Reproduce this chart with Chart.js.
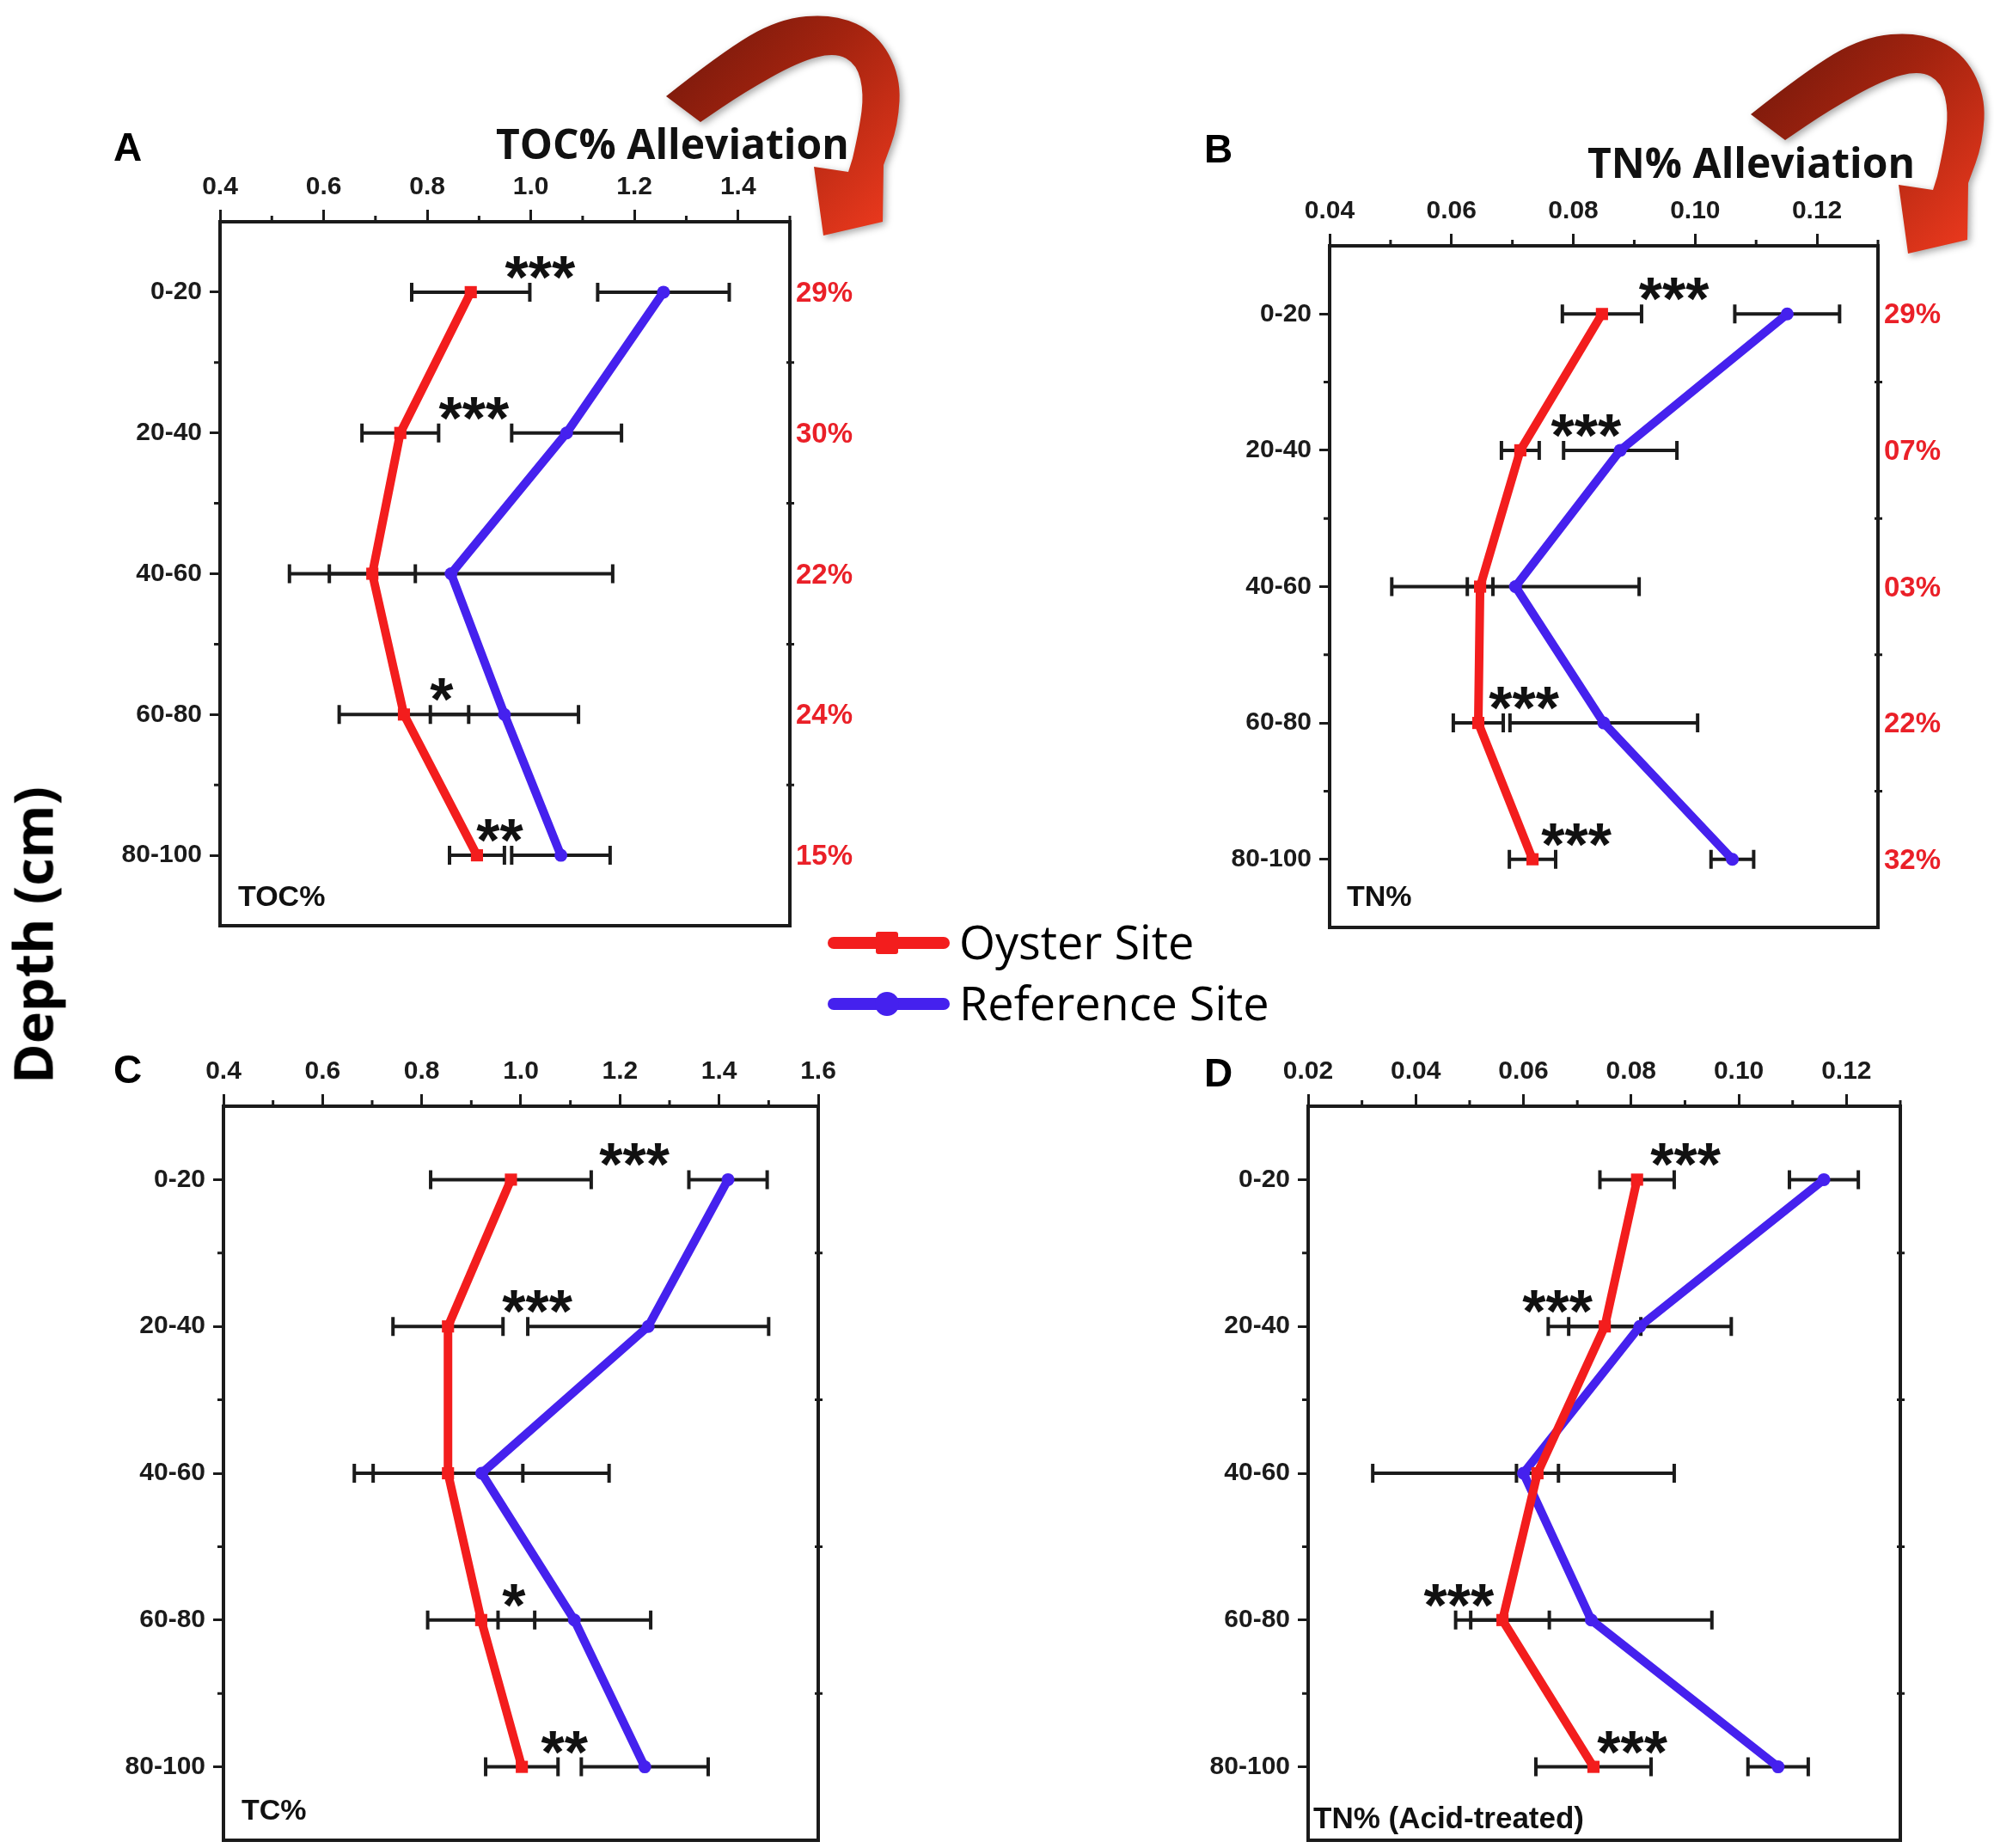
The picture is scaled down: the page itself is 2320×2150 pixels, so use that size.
<!DOCTYPE html>
<html>
<head>
<meta charset="utf-8">
<script src="https://cdn.jsdelivr.net/npm/chart.js@4.4.1/dist/chart.umd.min.js"></script>
<style>
  html, body { margin: 0; padding: 0; background: #fff; }
  body { width: 2320px; height: 2150px; position: relative; overflow: hidden; }
  canvas.panel { position: absolute; }
  #deco { position: absolute; left: 0; top: 0; }
  .letter { position: absolute; font: bold 46px 'Liberation Sans', Arial, sans-serif; line-height: 46px; color: #000; }
  .title { position: absolute; font: bold 48px 'Open Sans', sans-serif; line-height: 48px; color: #111; white-space: nowrap; }
  .depth { position: absolute; font: bold 63px 'Open Sans', sans-serif; line-height: 63px; color: #000; white-space: nowrap;
           transform: translate(-50%, -50%) rotate(-90deg); }
  .leg { position: absolute; left: 1116px; font: 54px 'Open Sans', sans-serif; line-height: 54px; color: #000; white-space: nowrap; }
  .swline { position: absolute; left: 963px; width: 142px; height: 14px; border-radius: 7px; }
  .swmark { position: absolute; }
</style>
</head>
<body>
<canvas id="deco" width="2320" height="2150"></canvas>

<div class="letter" style="left:132px;top:148px">A</div>
<div class="letter" style="left:1401px;top:150px">B</div>
<div class="letter" style="left:132px;top:1221px">C</div>
<div class="letter" style="left:1401px;top:1225px">D</div>

<div class="title" style="left:577px;top:143px">TOC% Alleviation</div>
<div class="title" style="left:1847px;top:165px">TN% Alleviation</div>

<div class="depth" style="left:37px;top:1088px">Depth (cm)</div>

<div class="swline" style="top:1090px;background:#f31d1d"></div>
<div class="swmark" style="left:1019px;top:1084px;width:26px;height:26px;background:#f31d1d;border-radius:3px"></div>
<div class="leg" style="top:1068px">Oyster Site</div>
<div class="swline" style="top:1161px;background:#4521ee"></div>
<div class="swmark" style="left:1018px;top:1154px;width:28px;height:28px;background:#4521ee;border-radius:50%"></div>
<div class="leg" style="top:1139px">Reference Site</div>

<canvas id="chartA" class="panel"></canvas>
<canvas id="chartB" class="panel"></canvas>
<canvas id="chartC" class="panel"></canvas>
<canvas id="chartD" class="panel"></canvas>

<script>
// depth intervals (rows)
const depths = ['0-20', '20-40', '40-60', '60-80', '80-100'];

// A: TOC%
const tocOyster = [0.884, 0.748, 0.694, 0.755, 0.896];
const tocOysterErr = [0.114, 0.074, 0.083, 0.125, 0.053];
const tocRef = [1.256, 1.069, 0.846, 0.949, 1.058];
const tocRefErr = [0.127, 0.106, 0.312, 0.143, 0.095];
const tocTicks = [0.4, 0.6, 0.8, 1.0, 1.2, 1.4];
const tocRange = [0.4, 1.5];
const tocAlleviation = ['29%', '30%', '22%', '24%', '15%'];
const tocStars = ['***', '***', '', '*', '**'];
const tocStarX = [1.018, 0.890, null, 0.828, 0.940];

// B: TN%
const tnOyster = [0.0847, 0.0713, 0.0647, 0.0644, 0.0733];
const tnOysterErr = [0.0065, 0.0031, 0.0021, 0.0041, 0.0038];
const tnRef = [0.1151, 0.0877, 0.0705, 0.0850, 0.1061];
const tnRefErr = [0.0086, 0.0093, 0.0203, 0.0154, 0.0035];
const tnTicks = [0.04, 0.06, 0.08, 0.10, 0.12];
const tnRange = [0.04, 0.13];
const tnAlleviation = ['29%', '07%', '03%', '22%', '32%'];
const tnStars = ['***', '***', '', '***', '***'];
const tnStarX = [0.0965, 0.0821, null, 0.0719, 0.0805];

// C: TC%
const tcOyster = [0.980, 0.853, 0.853, 0.920, 1.002];
const tcOysterErr = [0.162, 0.111, 0.151, 0.108, 0.073];
const tcRef = [1.418, 1.257, 0.921, 1.108, 1.250];
const tcRefErr = [0.079, 0.243, 0.257, 0.154, 0.128];
const tcTicks = [0.4, 0.6, 0.8, 1.0, 1.2, 1.4, 1.6];
const tcRange = [0.4, 1.6];
const tcStars = ['***', '***', '', '*', '**'];
const tcStarX = [1.229, 1.033, null, 0.986, 1.088];

// D: TN% (Acid-treated)
const tnaOyster = [0.0811, 0.0751, 0.0626, 0.0561, 0.0730];
const tnaOysterErr = [0.0069, 0.0067, 0.0039, 0.0087, 0.0107];
const tnaRef = [0.1158, 0.0816, 0.0600, 0.0726, 0.1073];
const tnaRefErr = [0.0064, 0.0170, 0.0280, 0.0224, 0.0056];
const tnaTicks = [0.02, 0.04, 0.06, 0.08, 0.10, 0.12];
const tnaRange = [0.02, 0.13];
const tnaStars = ['***', '***', '', '***', '***'];
const tnaStarX = [0.0901, 0.0663, null, 0.0480, 0.0802];

const RED = '#f31d1d';
const BLUE = '#4521ee';
const INK = '#1b1b1b';
const PCT = '#ea2028';
const FONT = "'Liberation Sans', Arial, sans-serif";

// error bars, frame, minor ticks, stars, alleviation %, inner label
const panelDecor = {
  id: 'panelDecor',
  beforeDatasetsDraw(chart) {
    const ctx = chart.ctx, xs = chart.scales.x, ys = chart.scales.y;
    ctx.save();
    ctx.strokeStyle = INK;
    ctx.lineWidth = 4;
    chart.data.datasets.forEach(ds => {
      ds.data.forEach((p, i) => {
        const e = ds.errors[i];
        const y = ys.getPixelForValue(p.y);
        const x1 = xs.getPixelForValue(p.x - e), x2 = xs.getPixelForValue(p.x + e);
        ctx.beginPath();
        ctx.moveTo(x1, y); ctx.lineTo(x2, y);
        ctx.moveTo(x1, y - 11); ctx.lineTo(x1, y + 11);
        ctx.moveTo(x2, y - 11); ctx.lineTo(x2, y + 11);
        ctx.stroke();
      });
    });
    ctx.restore();
  },
  afterDraw(chart, args, o) {
    const ctx = chart.ctx, xs = chart.scales.x, ys = chart.scales.y;
    const a = chart.chartArea;
    ctx.save();
    ctx.strokeStyle = INK;
    ctx.lineWidth = 4;
    ctx.strokeRect(a.left, a.top, a.right - a.left, a.bottom - a.top);

    // minor ticks
    ctx.lineWidth = 3;
    ctx.beginPath();
    const step = o.ticks[1] - o.ticks[0];
    for (let v = o.ticks[0] + step / 2; v <= o.range[1] + 1e-9; v += step) {
      const px = xs.getPixelForValue(v);
      ctx.moveTo(px, a.top); ctx.lineTo(px, a.top - 7);
    }
    for (let i = 0; i < depths.length - 1; i++) {
      const py = ys.getPixelForValue(i + 0.5);
      ctx.moveTo(a.left, py); ctx.lineTo(a.left - 7, py);
      ctx.moveTo(a.right - 4, py); ctx.lineTo(a.right + 5, py);
    }
    ctx.stroke();

    // significance stars
    ctx.fillStyle = '#111';
    ctx.font = 'bold 70px ' + FONT;
    ctx.textAlign = 'center';
    ctx.textBaseline = 'alphabetic';
    o.stars.forEach((s, i) => {
      if (!s) return;
      ctx.fillText(s, xs.getPixelForValue(o.starX[i]), ys.getPixelForValue(i) + 7);
    });

    // alleviation percentages
    if (o.pct) {
      ctx.fillStyle = PCT;
      ctx.font = 'bold 33px ' + FONT;
      ctx.textAlign = 'left';
      ctx.textBaseline = 'middle';
      o.pct.forEach((s, i) => ctx.fillText(s, a.right + 7, ys.getPixelForValue(i) + 2));
    }

    // inner label
    ctx.fillStyle = '#111';
    ctx.font = 'bold ' + o.labelSize + 'px ' + FONT;
    ctx.textAlign = 'left';
    ctx.textBaseline = 'middle';
    ctx.fillText(o.label, a.left + o.labelDx, a.bottom - o.labelDy);
    ctx.restore();
  }
};

function panel(id, box, o) {
  const el = document.getElementById(id);
  const padL = 150, padT = 100, padB = 12;
  const w = box.r - box.l + padL + box.padR;
  const h = box.b - box.t + padT + padB;
  el.width = w; el.height = h;
  el.style.width = w + 'px'; el.style.height = h + 'px';
  el.style.left = (box.l - padL) + 'px';
  el.style.top = (box.t - padT) + 'px';

  const tickFont = { family: FONT, size: 30, weight: 'bold' };
  const noPad = s => { s.paddingTop = 0; s.paddingBottom = 0; s.paddingLeft = 0; s.paddingRight = 0; };
  const mk = (vals, errs, color, style, radius) => ({
    data: vals.map((v, i) => ({ x: v, y: i })),
    errors: errs,
    borderColor: color,
    backgroundColor: color,
    borderWidth: 10,
    pointStyle: style,
    pointRadius: radius,
    pointBorderWidth: 0,
    tension: 0,
    clip: false
  });

  new Chart(el, {
    type: 'line',
    data: {
      datasets: [
        mk(o.oyster, o.oysterErr, RED, 'rect', 10),
        mk(o.ref, o.refErr, BLUE, 'circle', 7.5)
      ]
    },
    options: {
      responsive: false,
      animation: false,
      devicePixelRatio: 1,
      layout: { padding: { left: 0, top: 0, right: box.padR, bottom: padB } },
      plugins: {
        legend: { display: false },
        tooltip: { enabled: false },
        panelDecor: o
      },
      scales: {
        x: {
          type: 'linear', position: 'top',
          min: o.range[0], max: o.range[1],
          afterBuildTicks: s => { s.ticks = o.ticks.map(v => ({ value: v })); },
          afterFit: s => { s.height = padT; noPad(s); },
          grid: { display: true, drawOnChartArea: false, drawTicks: true, tickLength: 14, tickWidth: 3, tickColor: INK },
          border: { display: false },
          ticks: { padding: 8, color: INK, font: tickFont, maxRotation: 0, autoSkip: false,
                   callback: v => v.toFixed(o.dec) }
        },
        y: {
          type: 'linear', position: 'left', reverse: true,
          min: -0.5, max: 4.5,
          afterBuildTicks: s => { s.ticks = depths.map((d, i) => ({ value: i })); },
          afterFit: s => { s.width = padL; noPad(s); },
          grid: { display: true, drawOnChartArea: false, drawTicks: true, tickLength: 12, tickWidth: 3, tickColor: INK },
          border: { display: false },
          ticks: { padding: 9, color: INK, font: tickFont, autoSkip: false,
                   callback: v => depths[v] }
        }
      }
    },
    plugins: [panelDecor]
  });
}

panel('chartA', { l: 256, t: 258, r: 919, b: 1077, padR: 100 }, {
  oyster: tocOyster, oysterErr: tocOysterErr, ref: tocRef, refErr: tocRefErr,
  ticks: tocTicks, range: tocRange, dec: 1, pct: tocAlleviation,
  stars: tocStars, starX: tocStarX, label: 'TOC%', labelDx: 21, labelDy: 32, labelSize: 34
});
panel('chartB', { l: 1547, t: 286, r: 2185, b: 1079, padR: 100 }, {
  oyster: tnOyster, oysterErr: tnOysterErr, ref: tnRef, refErr: tnRefErr,
  ticks: tnTicks, range: tnRange, dec: 2, pct: tnAlleviation,
  stars: tnStars, starX: tnStarX, label: 'TN%', labelDx: 20, labelDy: 34, labelSize: 34
});
panel('chartC', { l: 260, t: 1287, r: 952, b: 2141, padR: 60 }, {
  oyster: tcOyster, oysterErr: tcOysterErr, ref: tcRef, refErr: tcRefErr,
  ticks: tcTicks, range: tcRange, dec: 1, pct: null,
  stars: tcStars, starX: tcStarX, label: 'TC%', labelDx: 21, labelDy: 33, labelSize: 34
});
panel('chartD', { l: 1522, t: 1287, r: 2211, b: 2141, padR: 60 }, {
  oyster: tnaOyster, oysterErr: tnaOysterErr, ref: tnaRef, refErr: tnaRefErr,
  ticks: tnaTicks, range: tnaRange, dec: 2, pct: null,
  stars: tnaStars, starX: tnaStarX, label: 'TN% (Acid-treated)', labelDx: 6, labelDy: 24, labelSize: 35
});

// curved red "alleviation" arrows (decoration)
function drawArrow(ctx, ox, oy) {
  const outer = [[0, 0], [63, -50], [130, -90], [196, -96], [246, -73], [273, -23], [270, 34], [253, 80]];
  const inner = [[217, 72], [225, 37], [230, -3], [222, -37], [197, -51], [154, -40], [90, -4], [40, 30]];
  const P = pts => pts.map(p => [ox + p[0], oy + p[1]]);
  const smooth = (pts, first) => {
    if (first) ctx.moveTo(pts[0][0], pts[0][1]); else ctx.lineTo(pts[0][0], pts[0][1]);
    for (let i = 1; i < pts.length - 1; i++) {
      const mx = (pts[i][0] + pts[i + 1][0]) / 2, my = (pts[i][1] + pts[i + 1][1]) / 2;
      ctx.quadraticCurveTo(pts[i][0], pts[i][1], mx, my);
    }
    const l = pts[pts.length - 1];
    ctx.lineTo(l[0], l[1]);
  };
  const g = ctx.createLinearGradient(ox, oy - 90, ox + 260, oy + 160);
  g.addColorStop(0, '#6e170b');
  g.addColorStop(0.45, '#a3230f');
  g.addColorStop(1, '#ee3a1e');
  ctx.save();
  ctx.shadowColor = 'rgba(0,0,0,0.35)';
  ctx.shadowBlur = 8;
  ctx.shadowOffsetX = 3;
  ctx.shadowOffsetY = 3;
  ctx.fillStyle = g;
  ctx.beginPath();
  smooth(P(outer), true);
  const head = P([[252, 146], [183, 162], [172, 82], [212, 88]]);
  head.forEach(p => ctx.lineTo(p[0], p[1]));
  smooth(P(inner), false);
  ctx.closePath();
  ctx.fill();
  ctx.restore();
}
const deco = document.getElementById('deco').getContext('2d');
drawArrow(deco, 775, 112);
drawArrow(deco, 2037, 133);
</script>
</body>
</html>
